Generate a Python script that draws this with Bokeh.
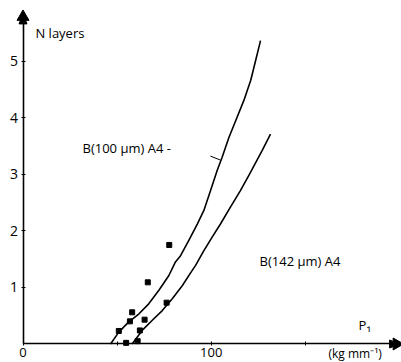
import math
from bokeh.plotting import figure
from bokeh.models import Range1d, FixedTicker, Label
from bokeh.embed import file_html
from bokeh.resources import INLINE

# ---- data ----
# curve B(100 um) A4
curve_a_x = [46.5, 50.9, 56.2, 61.5, 66.8, 72.2, 77.5, 81.0, 83.7, 88.1, 92.6, 96.1, 99.6,
             103.2, 105.8, 109.4, 113.8, 117.3, 121.0, 123.6, 126.2]
curve_a_y = [0.00, 0.21, 0.39, 0.53, 0.71, 0.95, 1.21, 1.45, 1.56, 1.83, 2.12, 2.36, 2.71,
             3.07, 3.30, 3.65, 4.01, 4.30, 4.66, 5.01, 5.36]
# curve B(142 um) A4
curve_b_x = [58.0, 63.3, 68.7, 74.0, 79.3, 84.6, 89.9, 91.7, 96.1, 100.5, 104.9, 110.2,
             115.5, 120.0, 127.1, 131.5]
curve_b_y = [0.00, 0.24, 0.42, 0.59, 0.80, 1.03, 1.30, 1.39, 1.65, 1.89, 2.12, 2.42,
             2.71, 2.98, 3.42, 3.71]
# measured points
pts_x = [50.9, 54.8, 56.8, 58.0, 60.9, 62.1, 64.6, 66.3, 76.3, 77.7]
pts_y = [0.23, 0.02, 0.40, 0.56, 0.05, 0.24, 0.43, 1.09, 0.73, 1.75]
# ticks
y_ticks = [1, 2, 3, 4, 5]
y_labels = ["1", "2", "3", "4", "5"]
x_ticks = [0, 50, 100, 150]
x_labels = ["0", "", "100", ""]
# axis extents (arrow heads)
y_axis_end = 5.78
x_axis_end = 198.5

FONT = "Open Sans"

X0, X1 = -11.96, 201.1
Y0, Y1 = -0.327, 6.07
W, H = 401, 362

p = figure(width=W, height=H, output_backend="svg", toolbar_location=None,
           x_range=Range1d(X0, X1), y_range=Range1d(Y0, Y1),
           min_border_left=0, min_border_right=0, min_border_top=0, min_border_bottom=0)
p.outline_line_color = None
p.grid.visible = False

# axes, placed at the data origin
p.xaxis.fixed_location = 0
p.yaxis.fixed_location = 0
p.xaxis.ticker = FixedTicker(ticks=x_ticks)
p.xaxis.major_label_overrides = {t: l for t, l in zip(x_ticks, x_labels)}
p.yaxis.ticker = FixedTicker(ticks=y_ticks)
p.yaxis.major_label_overrides = {t: l for t, l in zip(y_ticks, y_labels)}
for ax in (p.xaxis, p.yaxis):
    ax.axis_line_color = "black"
    ax.axis_line_width = 1.6
    ax.major_tick_line_color = "black"
    ax.major_tick_in = 2
    ax.major_tick_out = 2
    ax.minor_tick_line_color = None
    ax.major_label_text_font = FONT
    ax.major_label_text_color = "black"
p.yaxis.bounds = (0, y_axis_end)
p.xaxis.bounds = (0, x_axis_end)
p.yaxis.major_label_text_font_size = "14px"
p.xaxis.major_label_text_font_size = "13px"
p.yaxis.major_label_standoff = 3
p.xaxis.major_label_standoff = 2

# curves
p.line(curve_a_x, curve_a_y, line_color="black", line_width=1.6, line_join="round")
p.line(curve_b_x, curve_b_y, line_color="black", line_width=1.6, line_join="round")

# measured points
p.scatter(pts_x, pts_y, marker="square", size=5, fill_color="black", line_color="black")

# leader to curve A
p.segment(x0=[99.6], y0=[3.32], x1=[104.9], y1=[3.25], line_color="black", line_width=1)

# axis arrow heads (sizes given in screen pixels, converted to data units)
ux = (X1 - X0) / W   # data units per pixel, x
uy = (Y1 - Y0) / H   # data units per pixel, y
head_len, head_half = 10, 4
p.patches(
    xs=[[-head_half * ux, head_half * ux, 0],
        [x_axis_end + 3 * ux - head_len * ux, x_axis_end + 3 * ux - head_len * ux, x_axis_end + 3 * ux]],
    ys=[[y_axis_end + 3 * uy - head_len * uy, y_axis_end + 3 * uy - head_len * uy, y_axis_end + 3 * uy],
        [-head_half * uy, head_half * uy, 0]],
    fill_color="black", line_color="black", line_width=1)
p.scatter([0], [y_axis_end], marker="triangle", size=12, fill_color="black", line_color="black")
p.scatter([x_axis_end], [0], marker="triangle", size=12, angle=-math.pi / 2,
          fill_color="black", line_color="black")

def lab(x, y, t, size="12px"):
    p.add_layout(Label(x=x, y=y, text=t, text_font=FONT, text_font_size=size,
                       text_baseline="middle", text_align="left", text_color="black"))

lab(6.6, 5.49, "N layers", "13px")
lab(31.6, 3.47, "B(100 µm) A4  -", "13px")
lab(125.7, 1.475, "B(142 µm) A4", "13px")
lab(178.3, 0.33, "P₁", "13px")
lab(162.3, -0.17, "(kg mm⁻¹)", "12px")

open("out.html", "w").write(file_html(p, INLINE))
